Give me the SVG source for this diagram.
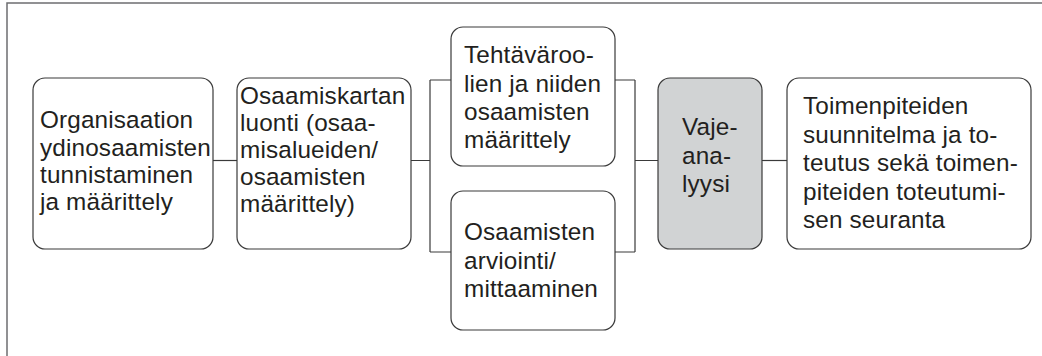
<svg xmlns="http://www.w3.org/2000/svg" width="1042" height="356" viewBox="0 0 1042 356">
<style>
.box{fill:#fff;stroke:#3a3a3a;stroke-width:1.2}
.gray{fill:#d1d3d4}
.t{font-family:"Liberation Sans",Arial,sans-serif;font-size:24.3px;fill:#231f20;letter-spacing:0.15px}
.c{fill:none;stroke:#3a3a3a;stroke-width:1.2}
.frame{fill:none;stroke:#6d6e70;stroke-width:1.5}
</style>
<rect width="1042" height="356" fill="#fff"/>
<path class="frame" d="M7,356 V3 H1042"/>
<g id="connectors">
<path class="c" d="M213,160.5 H237"/>
<path class="c" d="M411,160.5 H430 M430,80 V252 M430,80 H451 M430,252 H451"/>
<path class="c" d="M615,80 H635 M615,252 H635 M635,80 V252 M635,160.5 H658"/>
<path class="c" d="M762,160.5 H787"/>
</g>
<g id="n1">
<rect class="box" x="33" y="78" width="180" height="171" rx="12"/>
<text class="t"><tspan x="40" y="128">Organisaation</tspan><tspan x="40" y="155.5">ydinosaamisten</tspan><tspan x="40" y="183">tunnistaminen</tspan><tspan x="40" y="210">ja määrittely</tspan></text>
</g>
<g id="n2">
<rect class="box" x="237" y="78" width="174" height="171" rx="12"/>
<text class="t"><tspan x="240" y="104">Osaamiskartan</tspan><tspan x="240" y="131">luonti (osaa-</tspan><tspan x="240" y="158">misalueiden/</tspan><tspan x="240" y="185">osaamisten</tspan><tspan x="240" y="212">määrittely)</tspan></text>
</g>
<g id="n3">
<rect class="box" x="451" y="27" width="164" height="139" rx="12"/>
<text class="t"><tspan x="464" y="63">Tehtäväroo-</tspan><tspan x="464" y="91.5">lien ja niiden</tspan><tspan x="464" y="120">osaamisten</tspan><tspan x="464" y="148">määrittely</tspan></text>
</g>
<g id="n4">
<rect class="box" x="451" y="191" width="164" height="139" rx="12"/>
<text class="t"><tspan x="464" y="240">Osaamisten</tspan><tspan x="464" y="268.5">arviointi/</tspan><tspan x="464" y="297">mittaaminen</tspan></text>
</g>
<g id="n5">
<rect class="box gray" x="658" y="78" width="104" height="171" rx="12"/>
<text class="t"><tspan x="682" y="135">Vaje-</tspan><tspan x="682" y="163.5">ana-</tspan><tspan x="682" y="192">lyysi</tspan></text>
</g>
<g id="n6">
<rect class="box" x="787" y="78" width="244" height="171" rx="12"/>
<text class="t"><tspan x="803" y="114">Toimenpiteiden</tspan><tspan x="803" y="142.5">suunnitelma ja to-</tspan><tspan x="803" y="171">teutus sekä toimen-</tspan><tspan x="803" y="199.5">piteiden toteutumi-</tspan><tspan x="803" y="228">sen seuranta</tspan></text>
</g>
</svg>
